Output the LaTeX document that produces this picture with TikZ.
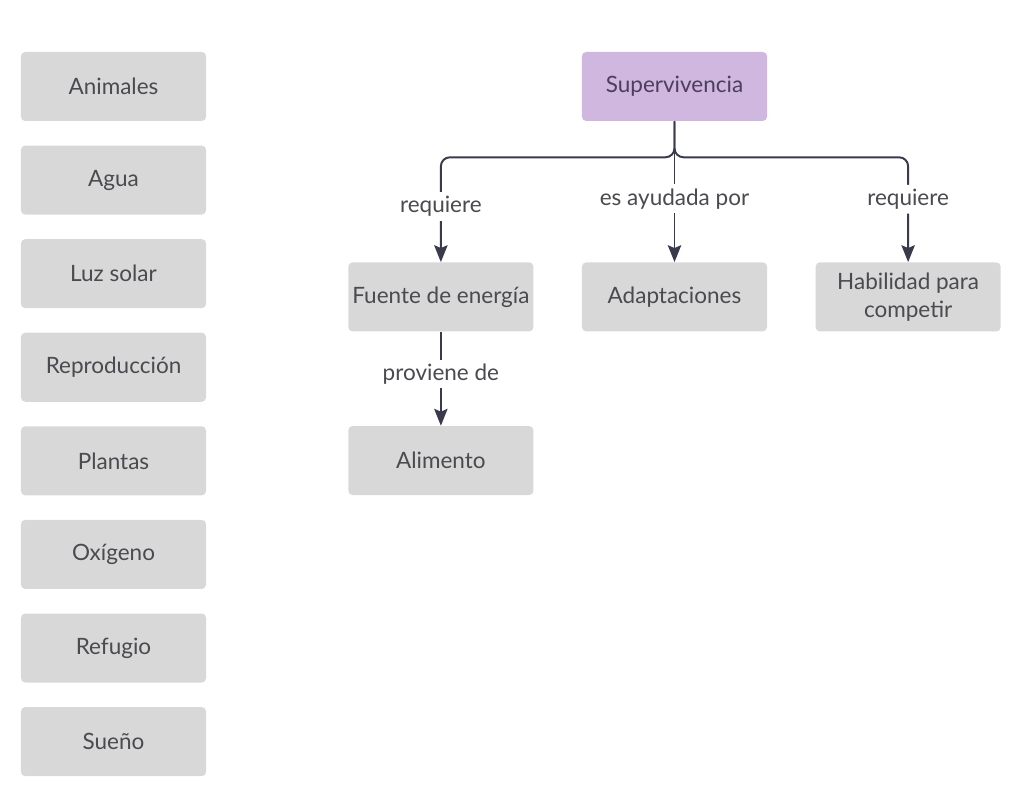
\documentclass[tikz,border=0pt]{standalone}
\usepackage{fontspec}
\setmainfont{Lato}
\usetikzlibrary{positioning,arrows.meta}
\definecolor{boxgray}{HTML}{D8D8D8}
\definecolor{boxtext}{HTML}{4A4A4F}
\definecolor{supfill}{HTML}{CFB7DF}
\definecolor{suptext}{HTML}{4D3F5C}
\definecolor{linkcol}{HTML}{393B4C}
\tikzset{
  concept/.style={fill=boxgray, text=boxtext, rounded corners=3pt,
    minimum width=4.625cm, minimum height=1.725cm, inner sep=2pt,
    align=center, font=\fontsize{16}{20}\selectfont},
  mainconcept/.style={concept, fill=supfill, text=suptext},
  link/.style={draw=linkcol, line width=1.4pt,
    -{Stealth[length=12pt,width=9.5pt,inset=2pt]}},
  linklabel/.style={fill=white, text=boxtext, inner sep=3pt,
    font=\fontsize{16}{20}\selectfont}
}
\begin{document}
\begin{tikzpicture}[x=0.025cm, y=0.025cm, node distance=0.6cm]
  \useasboundingbox (0,0) rectangle (1024,793);

  % Left column of loose concepts
  \node[concept] (animales) at (113.5,706.5) {Animales};
  \node[concept, below=of animales] (agua) {Agua};
  \node[concept, below=of agua] (luz) {Luz solar};
  \node[concept, below=of luz] (reproduccion) {Reproducción};
  \node[concept, below=of reproduccion] (plantas) {Plantas};
  \node[concept, below=of plantas] (oxigeno) {Oxígeno};
  \node[concept, below=of oxigeno] (refugio) {Refugio};
  \node[concept, below=of refugio] (sueno) {Sueño};

  % Concept map
  \node[mainconcept] (supervivencia) at (674.5,706.5) {Supervivencia};
  \node[concept, below=3.52cm of supervivencia] (adaptaciones) {Adaptaciones};
  \node[concept, left=1.2cm of adaptaciones] (fuente) {Fuente de energía};
  \node[concept, right=1.2cm of adaptaciones] (habilidad) {Habilidad para\\competir};
  \node[concept, below=2.35cm of fuente] (alimento) {Alimento};

  % Links
  \draw[link, rounded corners=0.225cm] (supervivencia.south) -- ++(0,-36)
    -| (fuente.north) node[pos=0.735, linklabel] {requiere};
  \draw[link, rounded corners=0.225cm] (supervivencia.south) -- ++(0,-36)
    -| (habilidad.north) node[pos=0.7, linklabel] {requiere};
  \draw[link] (supervivencia.south) -- (adaptaciones.north)
    node[pos=0.55, linklabel] {es ayudada por};
  \draw[link] (fuente.south) -- (alimento.north)
    node[pos=0.45, linklabel] {proviene de};
\end{tikzpicture}
\end{document}
